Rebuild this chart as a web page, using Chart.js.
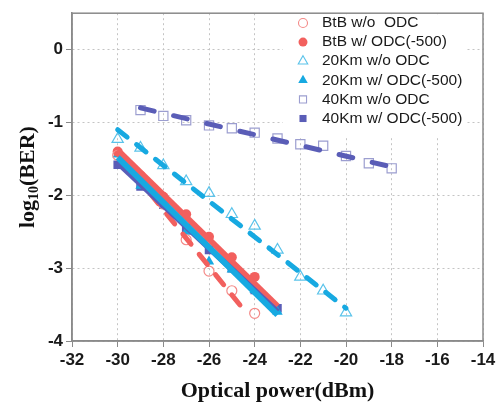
<!DOCTYPE html>
<html>
<head>
<meta charset="utf-8">
<script src="https://cdn.jsdelivr.net/npm/chart.js@4.4.1/dist/chart.umd.min.js"></script>
<style>
  html, body { margin: 0; padding: 0; background: #fff; }
  #wrap { width: 501px; height: 406px; }
</style>
</head>
<body>
<div id="wrap"><canvas id="ber-chart"></canvas></div>
<script>
// axis ticks
const xTicks = [-32, -30, -28, -26, -24, -22, -20, -18, -16, -14];
const yTicks = [-4, -3, -2, -1, 0];

// measured points, log10(BER) vs optical power (dBm)
const powerBtB = [-30, -29, -28, -27, -26, -25, -24];
const btbWo = [-1.45, -1.78, -2.12, -2.61, -3.04, -3.31, -3.62];
const btbW = [-1.40, -1.73, -2.02, -2.26, -2.57, -2.85, -3.12];

const power20Wo = [-30, -29, -28, -27, -26, -25, -24, -23, -22, -21, -20];
const km20Wo = [-1.23, -1.35, -1.59, -1.81, -1.97, -2.26, -2.42, -2.75, -3.12, -3.31, -3.61];
const power20W = [-30, -29, -28, -27, -26, -25, -24, -23];
const km20W = [-1.44, -1.87, -2.07, -2.50, -2.91, -3.02, -3.30, -3.60];

const power40Wo = [-29, -28, -27, -26, -25, -24, -23, -22, -21, -20, -19, -18];
const km40Wo = [-0.83, -0.91, -0.97, -1.04, -1.08, -1.14, -1.22, -1.30, -1.32, -1.46, -1.56, -1.63];
const power40W = [-30, -29, -28, -27, -26, -25, -24, -23];
const km40W = [-1.58, -1.88, -2.13, -2.45, -2.75, -3.00, -3.30, -3.55];

// fitted lines (start / end)
const fitBtBWo = [[-30, -1.42], [-24.4, -3.60]];
const fitBtBW = [[-30, -1.38], [-23, -3.52]];
const fit20Wo = [[-30, -1.10], [-20, -3.55]];
const fit20W = [[-30, -1.48], [-23, -3.64]];
const fit40Wo = [[-29, -0.80], [-18, -1.61]];
const fit40W = [[-30, -1.55], [-23, -3.60]];

const red = '#F2605E', redLight = '#F48A88';
const cyan = '#17A9E1', cyanLight = '#5BC3EA';
const blue = '#5A5DB7', blueLight = '#9C9ED0';

const toPts = (xs, ys) => xs.map((x, i) => ({ x: x, y: ys[i] }));
const toLine = pairs => pairs.map(p => ({ x: p[0], y: p[1] }));

function markers(label, xs, ys, style, color, open, radius) {
  return {
    label: label,
    data: toPts(xs, ys),
    showLine: false,
    pointStyle: style,
    pointRadius: radius,
    pointBorderWidth: open ? 1.2 : 0,
    pointBorderColor: color,
    pointBackgroundColor: open ? 'rgba(0,0,0,0)' : color,
    order: 1,
    legendStyle: style,
    legendOpen: open
  };
}

function fitLine(pairs, color, dash, width, order) {
  return {
    label: '',
    data: toLine(pairs),
    showLine: true,
    pointRadius: 0,
    borderColor: color,
    borderWidth: width,
    borderDash: dash,
    borderCapStyle: dash.length ? 'round' : 'butt',
    fill: false,
    order: order,
    isFit: true
  };
}

const legendPlugin = {
  id: 'insideLegend',
  afterDraw(chart) {
    const ctx = chart.ctx;
    const area = chart.chartArea;
    ctx.save();
    // white legend background over grid
    ctx.fillStyle = '#fff';
    ctx.fillRect(283, area.top + 1, 182, 122);
    ctx.font = '15.5px "Liberation Sans", Arial, sans-serif';
    ctx.textBaseline = 'middle';
    ctx.textAlign = 'left';
    let row = 0;
    chart.data.datasets.forEach(ds => {
      if (ds.isFit) return;
      const y = 23 + row * 19.1;
      const r = ds.legendStyle === 'circle' ? 4.5 : (ds.legendStyle === 'triangle' ? 5.5 : 5);
      ctx.fillStyle = ds.pointBackgroundColor;
      ctx.strokeStyle = ds.pointBorderColor;
      ctx.lineWidth = 1.1;
      Chart.helpers.drawPoint(ctx, {
        pointStyle: ds.legendStyle, radius: r, rotation: 0,
        borderWidth: ds.legendOpen ? 1.1 : 0
      }, 303, y);
      ctx.fillStyle = '#1a1a1a';
      ctx.fillText(ds.label, 322, y);
      row++;
    });
    // plot frame
    ctx.strokeStyle = '#8a8a8a';
    ctx.lineWidth = 1.5;
    ctx.strokeRect(area.left, area.top, area.right - area.left, area.bottom - area.top);
    // y title with subscript
    ctx.translate(27, (area.top + area.bottom) / 2);
    ctx.rotate(-Math.PI / 2);
    const big = 'bold 22px "Liberation Serif", "Times New Roman", serif';
    const small = 'bold 14px "Liberation Serif", "Times New Roman", serif';
    ctx.font = big;
    const w1 = ctx.measureText('log').width;
    const w3 = ctx.measureText('(BER)').width;
    ctx.font = small;
    const w2 = ctx.measureText('10').width;
    let x = -(w1 + w2 + w3) / 2;
    ctx.fillStyle = '#111';
    ctx.textBaseline = 'alphabetic';
    ctx.font = big;
    ctx.fillText('log', x, 7);
    x += w1;
    ctx.font = small;
    ctx.fillText('10', x, 11);
    x += w2;
    ctx.font = big;
    ctx.fillText('(BER)', x, 7);
    ctx.restore();
  }
};

const tickFont = { family: '"Liberation Sans", Arial, sans-serif', size: 17, weight: 'bold' };

new Chart(document.getElementById('ber-chart'), {
  type: 'scatter',
  data: {
    datasets: [
      markers('BtB w/o  ODC', powerBtB, btbWo, 'circle', redLight, true, 5),
      markers('BtB w/ ODC(-500)', powerBtB, btbW, 'circle', red, false, 5),
      markers('20Km w/o ODC', power20Wo, km20Wo, 'triangle', cyanLight, true, 6.5),
      markers('20Km w/ ODC(-500)', power20W, km20W, 'triangle', cyan, false, 6),
      markers('40Km w/o ODC', power40Wo, km40Wo, 'rect', blueLight, true, 6.5),
      markers('40Km w/ ODC(-500)', power40W, km40W, 'rect', blue, false, 6),
      fitLine(fit20W, cyan, [], 6, 0),
      fitLine(fit40W, blue, [], 6, 0.1),
      fitLine(fitBtBW, red, [], 6, 0.2),
      fitLine(fitBtBWo, red, [13, 13], 5, 0.3),
      fitLine(fit20Wo, cyan, [12, 12], 5, 0.3),
      fitLine(fit40Wo, blue, [14, 20], 5, 0.3)
    ]
  },
  options: {
    responsive: true,
    maintainAspectRatio: false,
    animation: false,
    devicePixelRatio: 1,
    layout: { padding: { top: 9, right: 18, left: 0, bottom: 0 } },
    plugins: {
      legend: { display: false },
      tooltip: { enabled: false }
    },
    scales: {
      x: {
        type: 'linear',
        min: -32,
        max: -14,
        afterBuildTicks: scale => { scale.ticks = xTicks.map(v => ({ value: v })); },
        afterFit: scale => { scale.height = 65; },
        ticks: { font: tickFont, color: '#1a1a1a', padding: 3, maxRotation: 0 },
        grid: { color: '#c4c4c4', tickColor: '#8a8a8a', tickLength: 6, tickBorderDash: [] },
        border: { color: '#8a8a8a', width: 1.5, dash: [2, 3] },
        title: {
          display: true,
          text: 'Optical power(dBm)',
          color: '#111',
          font: { family: '"Liberation Serif", "Times New Roman", serif', size: 22, weight: 'bold' },
          padding: { top: 0, bottom: 1 }
        }
      },
      y: {
        type: 'linear',
        min: -4,
        max: 0.5,
        afterBuildTicks: scale => { scale.ticks = yTicks.map(v => ({ value: v })); },
        afterFit: scale => { scale.width = 72; },
        ticks: { font: tickFont, color: '#1a1a1a', padding: 3 },
        grid: { color: '#c4c4c4', tickColor: '#8a8a8a', tickLength: 6, tickBorderDash: [] },
        border: { color: '#8a8a8a', width: 1.5, dash: [2, 3] }
      }
    }
  },
  plugins: [legendPlugin]
});
</script>
</body>
</html>
